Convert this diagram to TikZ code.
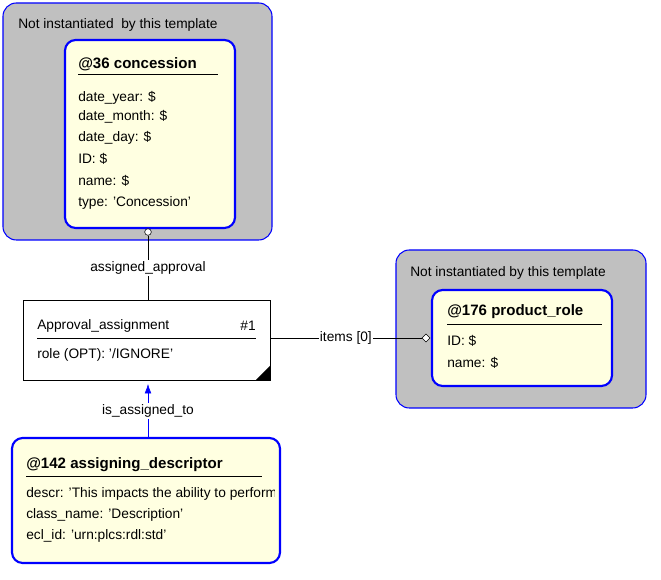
\documentclass[tikz,border=0pt]{standalone}
\usepackage{fontspec}
\setmainfont{Liberation Sans}
\usetikzlibrary{shapes.geometric, arrows.meta}
\definecolor{panelgrey}{RGB}{192,192,192}
\definecolor{entyellow}{RGB}{255,255,225}
\definecolor{edgeblue}{RGB}{0,0,255}
\tikzset{
  panel/.style={draw=edgeblue, fill=panelgrey, rounded corners=10pt, line width=0.8pt},
  entity/.style={draw=edgeblue, fill=entyellow, rounded corners=8pt, line width=1.6pt},
  txt/.style={anchor=west, inner sep=0pt, font=\fontsize{10.3}{12}\selectfont},
  head/.style={txt, font=\fontsize{11.3}{13}\bfseries\selectfont},
  rolelabel/.style={fill=white, inner sep=1pt, font=\fontsize{10.3}{12}\selectfont}
}
\begin{document}
\begin{tikzpicture}[x=0.75pt, y=-0.75pt]
\useasboundingbox (0,0) rectangle (661,580);

% Upper panel with concession
\draw[panel] (3,3) rectangle (272,240);
\node[txt] (ptitleA) at (18,25) {Not instantiated\ \ by this template};
\draw[entity] (65,40) rectangle (235,228);
\node[head] (concession) at (78,64) {@36 concession};
\draw (78,74) -- (218,74);
\node[txt] at (78,98) {date\_year: \$};
\node[txt] at (78,117) {date\_month: \$};
\node[txt] at (78,138) {date\_day: \$};
\node[txt] at (78,159) {ID: \$};
\node[txt] at (78,181) {name: \$};
\node[txt] at (78,203) {type: 'Concession'};
\node[circle, draw, fill=white, inner sep=0pt, minimum size=5pt] (circA) at (148,232) {};

% Right panel with product_role
\draw[panel] (396,250) rectangle (646,408);
\node[txt] (ptitleB) at (410,273) {Not instantiated by this template};
\draw[entity] (432,290) rectangle (612,386);
\node[head] (productrole) at (447,312) {@176 product\_role};
\draw (447,324) -- (602,324);
\node[txt] at (447,341) {ID: \$};
\node[txt] at (447,363) {name: \$};
\node[diamond, draw, fill=white, inner sep=0pt, minimum size=6pt] (diamB) at (426,338) {};

% Approval_assignment
\draw[fill=white] (23,300) rectangle (270,380);
\coordinate (apptop) at (148,300);
\coordinate (appright) at (270,338);
\coordinate (appbottom) at (148,384);
\node[txt] (approval) at (37,326) {Approval\_assignment};
\node[txt, anchor=east] at (256,326) {\#1};
\draw (37,338) -- (256,338);
\node[txt] at (37,355) {role (OPT): '/IGNORE'};
\fill (256,380) -- (270,380) -- (270,366) -- cycle;

% Lower entity
\draw[entity] (12,438) rectangle (280,563);
\coordinate (desctop) at (148,438);
\node[head] (descriptor) at (26,465) {@142 assigning\_descriptor};
\draw (26,476) -- (262,476);
\begin{scope}
\clip (12,438) rectangle (274,563);
\node[txt] at (26,494) {descr: 'This impacts the ability to perform'};
\end{scope}
\node[txt] at (26,515) {class\_name: 'Description'};
\node[txt] at (26,536) {ecl\_id: 'urn:plcs:rdl:std'};

% Connectors
\draw (circA) -- node[rolelabel] {assigned\_approval} (apptop);
\draw (appright) -- node[rolelabel, above=-6pt] {items [0]} (diamB);
\draw[edgeblue, -{Latex[length=7pt,width=5pt]}] (desctop) -- node[rolelabel, text=black] {is\_assigned\_to} (appbottom);
\end{tikzpicture}
\end{document}
